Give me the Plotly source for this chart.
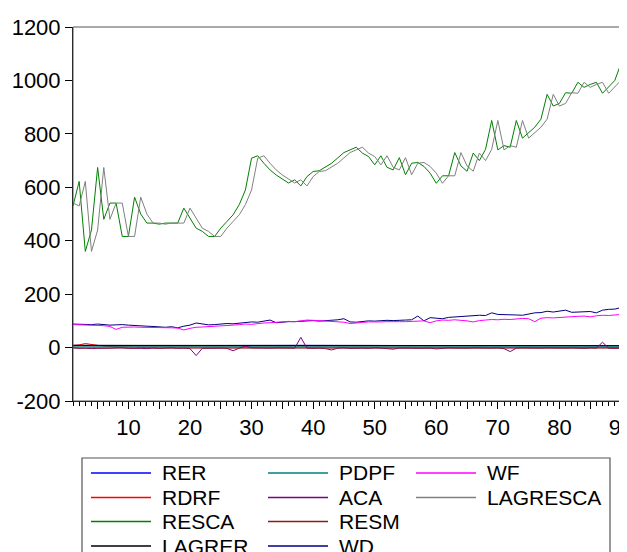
import plotly.graph_objects as go

obs = list(range(1, 91))

resca = [530, 622, 360, 440, 674, 480, 541, 541, 416, 416,
         563, 500, 466, 466, 462, 466, 466, 466, 522, 485,
         447, 435, 416, 416, 447, 472, 497, 535, 590, 709,
         718, 690, 665, 646, 630, 616, 628, 605, 640, 659,
         662, 675, 690, 710, 730, 740, 750, 728, 715, 684,
         718, 675, 665, 711, 647, 690, 693, 678, 653, 615,
         643, 643, 730, 680, 660, 728, 700, 742, 850, 740,
         756, 750, 850, 784, 803, 825, 855, 948, 904, 914,
         954, 952, 993, 974, 985, 993, 952, 977, 1000, 1064]

lagresca = [541, 530, 622, 360, 440, 674, 480, 541, 541, 416,
            416, 563, 500, 466, 466, 462, 466, 466, 466, 522,
            485, 447, 435, 416, 416, 447, 472, 497, 535, 590,
            709, 718, 690, 665, 646, 630, 616, 628, 605, 640,
            659, 662, 675, 690, 710, 730, 740, 750, 728, 715,
            684, 718, 675, 665, 711, 647, 690, 693, 678, 653,
            615, 643, 643, 730, 680, 660, 728, 700, 742, 850,
            740, 756, 750, 850, 784, 803, 825, 855, 948, 904,
            914, 954, 952, 993, 974, 985, 993, 952, 977, 1000]

wd = [88, 87, 87, 86, 88, 86, 84, 85, 86, 84,
      82, 81, 80, 79, 77, 76, 78, 74, 80, 84,
      92, 88, 85, 86, 89, 90, 89, 92, 94, 96,
      95, 98, 103, 93, 96, 97, 97, 98, 100, 101,
      99, 100, 102, 104, 108, 96, 95, 98, 100, 99,
      101, 102, 101, 103, 103, 104, 118, 100, 112, 110,
      108, 113, 115, 116, 118, 119, 121, 120, 130, 124,
      124, 123, 122, 121, 126, 130, 131, 136, 133, 137,
      140, 132, 133, 134, 135, 130, 140, 143, 144, 150]

wf = [86, 85, 85, 84, 84, 82, 79, 68, 76, 77,
      77, 76, 76, 75, 75, 74, 74, 73, 66, 72,
      76, 77, 78, 79, 80, 82, 84, 86, 88, 87,
      90, 92, 93, 95, 96, 98, 97, 100, 103, 102,
      101, 100, 99, 96, 95, 90, 93, 94, 96, 95,
      96, 97, 96, 97, 97, 98, 99, 100, 93, 100,
      103, 102, 104, 103, 100, 96, 101, 103, 105, 104,
      106, 105, 108, 109, 108, 97, 110, 112, 111, 113,
      114, 116, 117, 118, 115, 119, 121, 120, 122, 124]

rer = [8.2, 8.0, 7.9, 7.8, 7.6, 7.5, 7.4, 7.3, 7.2, 7.2,
       7.1, 7.0, 7.0, 6.9, 6.9, 6.8, 6.8, 6.9, 7.0, 7.3,
       7.6, 7.8, 7.9, 8.0, 8.1, 8.1, 8.2, 8.2, 8.3, 8.3,
       8.3, 8.4, 8.4, 8.5, 8.5, 8.4, 8.4, 8.3, 8.3, 8.2,
       8.2, 8.1, 8.1, 8.0, 8.0, 8.0, 7.9, 7.9, 7.9, 7.8,
       7.8, 7.8, 7.7, 7.7, 7.7, 7.6, 7.6, 7.6, 7.5, 7.5,
       7.5, 7.5, 7.4, 7.4, 7.4, 7.4, 7.3, 7.3, 7.3, 7.3,
       7.2, 7.2, 7.2, 7.2, 7.2, 7.1, 7.1, 7.1, 7.1, 7.1,
       7.0, 7.0, 7.0, 7.0, 7.0, 7.0, 6.9, 6.9, 6.9, 6.9]

lagrer = [8.3, 8.2, 8.0, 7.9, 7.8, 7.6, 7.5, 7.4, 7.3, 7.2,
          7.2, 7.1, 7.0, 7.0, 6.9, 6.9, 6.8, 6.8, 6.9, 7.0,
          7.3, 7.6, 7.8, 7.9, 8.0, 8.1, 8.1, 8.2, 8.2, 8.3,
          8.3, 8.3, 8.4, 8.4, 8.5, 8.5, 8.4, 8.4, 8.3, 8.3,
          8.2, 8.2, 8.1, 8.1, 8.0, 8.0, 8.0, 7.9, 7.9, 7.9,
          7.8, 7.8, 7.8, 7.7, 7.7, 7.7, 7.6, 7.6, 7.6, 7.5,
          7.5, 7.5, 7.5, 7.4, 7.4, 7.4, 7.4, 7.3, 7.3, 7.3,
          7.3, 7.2, 7.2, 7.2, 7.2, 7.2, 7.1, 7.1, 7.1, 7.1,
          7.1, 7.0, 7.0, 7.0, 7.0, 7.0, 7.0, 6.9, 6.9, 6.9]

rdrf = [8, 10, 15, 11, 7, 5, 4, 3, 3, 2,
        2, 2, 2, 2, 1, 1, 1, 1, 1, 2,
        3, 2, 2, 1, 1, 1, 1, 1, 1, 1,
        1, 1, 1, 1, 1, 1, 1, 1, 1, 1,
        1, 1, 1, 1, 1, 1, 1, 1, 1, 1,
        1, 1, 1, 1, 1, 1, 1, 1, 1, 1,
        1, 1, 1, 1, 1, 1, 1, 1, 1, 1,
        1, 1, 1, 1, 1, 1, 1, 1, 1, 1,
        1, 1, 1, 1, 1, 1, 1, 1, 1, 1]

aca = [-1, -3, -2, -4, -3, -2, -3, -2, -1, -3,
       -2, -3, -4, -2, -3, -2, -1, -3, -2, -4,
       -30, -3, -2, -1, -2, -3, -12, -2, 5, -1,
       -2, -3, -2, -1, -2, -3, -2, 38, -2, -3,
       -2, -4, -9, -2, -1, -3, -2, -2, -3, -1,
       -2, -3, -6, -2, -1, -2, -3, -2, -2, -5,
       -2, -1, -2, -3, -2, -1, -2, -3, -2, -1,
       -4, -15, -2, -1, -2, -3, -2, -1, -2, -3,
       -2, -1, -2, -3, -1, -2, 20, -2, -3, -2]

pdpf = [3, 3, 3, 2, 3, 3, 2, 3, 3, 3,
        2, 3, 3, 3, 2, 3, 3, 3, 3, 2,
        3, 3, 3, 2, 3, 3, 3, 3, 2, 3,
        3, 3, 3, 2, 3, 3, 3, 3, 2, 3,
        3, 3, 2, 3, 3, 3, 3, 2, 3, 3,
        3, 3, 2, 3, 3, 3, 3, 2, 3, 3,
        3, 2, 3, 3, 3, 3, 2, 3, 3, 3,
        3, 2, 3, 3, 3, 3, 2, 3, 3, 3,
        2, 3, 3, 3, 3, 2, 3, 3, 3, 3]

resm = [-1, -2, -2, -1, -2, -2, -2, -1, -2, -2,
        -2, -1, -2, -2, -2, -2, -1, -2, -2, -2,
        -3, -2, -2, -1, -2, -2, -2, -2, -1, -2,
        -2, -2, -2, -1, -2, -2, -2, -2, -1, -2,
        -2, -2, -2, -1, -2, -2, -2, -2, -1, -2,
        -2, -2, -2, -1, -2, -2, -2, -2, -1, -2,
        -2, -2, -2, -1, -2, -2, -2, -2, -1, -2,
        -2, -2, -2, -1, -2, -2, -2, -2, -1, -2,
        -2, -2, -2, -1, -2, -2, -2, -2, -1, -2]

series_names = ["RER", "RDRF", "RESCA", "LAGRER", "PDPF",
                "ACA", "RESM", "WD", "WF", "LAGRESCA"]
series_values = [rer, rdrf, resca, lagrer, pdpf, aca, resm, wd, wf, lagresca]
series_colors = ["#0000FF", "#FF0000", "#008000", "#000000", "#008080",
                 "#800080", "#8B1A1A", "#000080", "#FF00FF", "#808080"]

y_tick_values = [-200, 0, 200, 400, 600, 800, 1000, 1200]
y_tick_labels = ["-200", "0", "200", "400", "600", "800", "1000", "1200"]
x_tick_values = [5, 10, 15, 20, 25, 30, 35, 40, 45, 50, 55, 60, 65, 70, 75, 80, 85, 90]
x_tick_labels = ["", "10", "", "20", "", "30", "", "40", "", "50", "", "60",
                 "", "70", "", "80", "", "90"]

FONT = "Liberation Sans, Arial, sans-serif"
OFF = 8  # default page (body) margin of the html page
W, H = 627 - OFF, 552 - OFF
# plot area in page pixels: x 73..621, y 27..401
ML, MR, MT, MB = 73 - OFF, 627 - 621, 27 - OFF, 552 - 401
PW, PH = W - ML - MR, H - MT - MB

fig = go.Figure()
for name, vals, col in zip(series_names, series_values, series_colors):
    fig.add_trace(go.Scatter(x=obs, y=vals, mode="lines", name=name,
                             line=dict(color=col, width=1), showlegend=False))


def px_x(p):
    # page pixel -> paper x
    return (p - OFF - ML) / PW


def px_y(p):
    # page pixel -> paper y
    return (H - MB - (p - OFF)) / PH


# legend (3 columns, column-major as in the source)
legend_cols = [["RER", "RDRF", "RESCA", "LAGRER"],
               ["PDPF", "ACA", "RESM", "WD"],
               ["WF", "LAGRESCA"]]
col_line_x = [91, 268, 416]
row_y = [473, 497.5, 521.5, 546]
shapes = []
annotations = []
for ci, names in enumerate(legend_cols):
    for ri, nm in enumerate(names):
        col = series_colors[series_names.index(nm)]
        x0 = col_line_x[ci]
        yy = row_y[ri]
        shapes.append(dict(type="line", xref="paper", yref="paper",
                           x0=px_x(x0), x1=px_x(x0 + 60), y0=px_y(yy), y1=px_y(yy),
                           line=dict(color=col, width=1.3)))
        annotations.append(dict(xref="paper", yref="paper", x=px_x(x0 + 69), y=px_y(yy),
                                text=nm, showarrow=False, xanchor="left", yanchor="middle",
                                font=dict(family=FONT, size=21, color="black")))
shapes.append(dict(type="rect", xref="paper", yref="paper",
                   x0=px_x(82), x1=px_x(610), y0=px_y(600), y1=px_y(458),
                   line=dict(color="#555555", width=1.2)))
# plot frame (top / right)
shapes.append(dict(type="rect", xref="paper", yref="paper", x0=0, x1=1, y0=0, y1=1,
                   line=dict(color="#555555", width=1), layer="above"))

fig.update_layout(
    width=W, height=H,
    margin=dict(l=ML, r=MR, t=MT, b=MB, autoexpand=False),
    paper_bgcolor="white", plot_bgcolor="white",
    showlegend=False,
    shapes=shapes, annotations=annotations,
    font=dict(family=FONT, size=22, color="black"),
)
fig.update_xaxes(range=[1, 90], tickmode="array", tickvals=x_tick_values,
                 ticktext=x_tick_labels, ticks="outside", ticklen=7, tickwidth=1,
                 tickcolor="black", showline=True, linecolor="black", linewidth=1,
                 showgrid=False, zeroline=False, ticklabeloverflow="allow",
                 minor=dict(dtick=1, tick0=0, ticks="outside", ticklen=4,
                            tickcolor="black", tickwidth=1, showgrid=False),
                 tickfont=dict(family=FONT, size=22))
fig.update_yaxes(range=[-200, 1200], tickmode="array", tickvals=y_tick_values,
                 ticktext=y_tick_labels, ticks="outside", ticklen=7, tickwidth=1,
                 tickcolor="black", showline=True, linecolor="black", linewidth=1,
                 showgrid=False, zeroline=False, ticklabeloverflow="allow",
                 tickfont=dict(family=FONT, size=22))

fig.write_html("out.html")
